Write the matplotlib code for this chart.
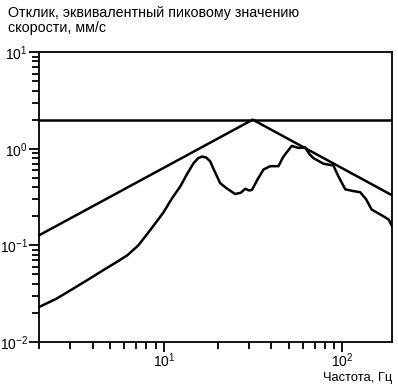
import numpy as np
import matplotlib.pyplot as plt
from matplotlib.ticker import LogLocator, NullFormatter

plt.rcParams['font.family'] = ['Liberation Sans', 'DejaVu Sans']

# частота, Гц и отклик, мм/с
freq = [2.0, 2.5, 2.9, 3.6, 4.7, 5.5, 6.25, 7.2, 8.25, 9.2, 10.0, 11.1, 12.4,
        13.6, 14.7, 15.6, 16.4, 17.3, 18.2, 19.3, 20.7, 22.5, 25.1, 27.0,
        28.6, 30.0, 31.2, 33.5, 36.2, 39.5, 43.9, 46.8, 52.1, 56.8, 61.9,
        65.5, 68.9, 78.4, 89.2, 95.0, 104, 115, 126, 136, 146, 170, 182, 190]
resp = [0.023, 0.028, 0.033, 0.042, 0.057, 0.068, 0.079, 0.1, 0.138, 0.18,
        0.222, 0.305, 0.41, 0.56, 0.71, 0.8, 0.83, 0.81, 0.74, 0.58, 0.44,
        0.39, 0.34, 0.35, 0.385, 0.37, 0.375, 0.48, 0.61, 0.66, 0.66, 0.83,
        1.07, 1.02, 1.03, 0.88, 0.8, 0.7, 0.67, 0.52, 0.38, 0.365, 0.355,
        0.3, 0.235, 0.2, 0.185, 0.158]

# ограничивающие линии
limit_level = 2.0
tri_f = [2.0, 31.5, 190]
tri_v = [0.127, 2.0, 0.33]

fig = plt.figure(figsize=(3.98, 3.86), dpi=100)
ax = fig.add_axes([0.098, 0.114, 0.887, 0.751])

ax.plot(freq, resp, color='black', lw=1.8)
ax.plot(tri_f, tri_v, color='black', lw=1.8)
ax.axhline(limit_level, color='black', lw=1.8)

ax.set_xscale('log')
ax.set_yscale('log')
ax.set_xlim(2.0, 190)
ax.set_ylim(0.01, 10)

ax.yaxis.set_major_locator(LogLocator(base=10, numticks=10))
ax.yaxis.set_minor_locator(LogLocator(base=10, subs=np.arange(2, 10), numticks=10))
ax.yaxis.set_minor_formatter(NullFormatter())
ax.xaxis.set_minor_formatter(NullFormatter())

for s in ax.spines.values():
    s.set_linewidth(1.3)
ax.tick_params(which='major', length=7, width=1.3, labelsize=10, pad=1)
ax.tick_params(axis='x', which='major', pad=0)
ax.tick_params(which='minor', length=5, width=1.3)

fig.text(0.02, 0.985, 'Отклик, эквивалентный пиковому значению\nскорости, мм/с',
         ha='left', va='top', fontsize=10.3, linespacing=1.15)
fig.text(0.985, 0.004, 'Частота, Гц', ha='right', va='bottom', fontsize=9.3)

fig.savefig('out.png', dpi=100)
